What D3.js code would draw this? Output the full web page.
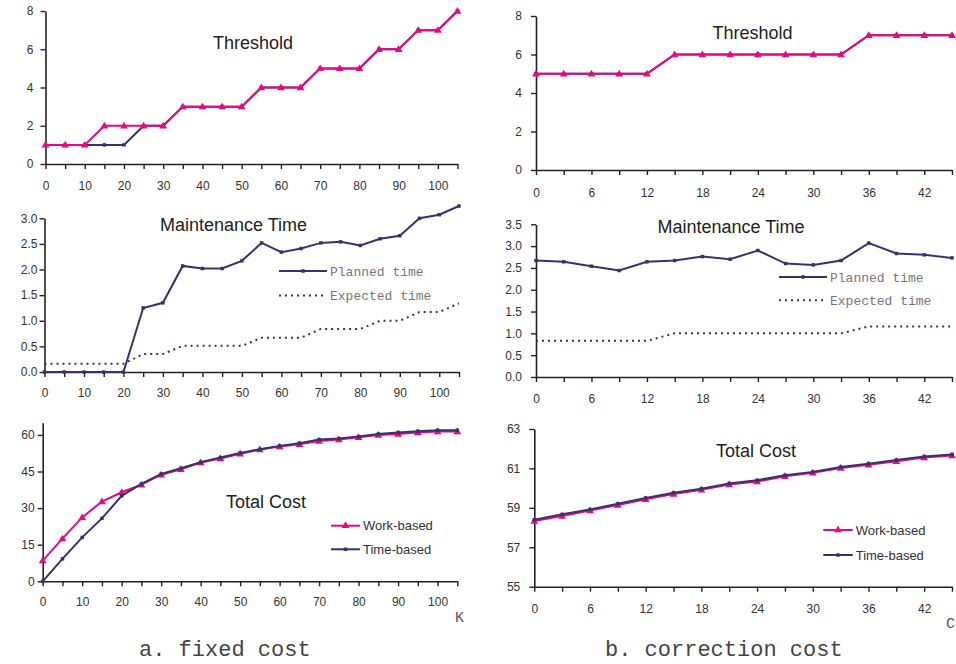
<!DOCTYPE html>
<html><head><meta charset="utf-8">
<script src="https://cdn.jsdelivr.net/npm/d3@7"></script>
<style>body{margin:0;background:#fff;overflow:hidden}</style>
</head><body>
<svg id="c" width="956" height="664"></svg>
<script>
// ---------- data ----------
const kValues = [0,5,10,15,20,25,30,35,40,45,50,55,60,65,70,75,80,85,90,95,100,105];
const kLabels = [0,10,20,30,40,50,60,70,80,90,100];
const thrWorkA = [1,1,1,2,2,2,2,3,3,3,3,4,4,4,5,5,5,6,6,7,7,8];
const thrTimeA = [1,1,1,1,1,2,2,3,3,3,3,4,4,4,5,5,5,6,6,7,7,8];
const plannedA = [0,0,0,0,0,1.25,1.35,2.07,2.02,2.02,2.17,2.52,2.34,2.41,2.52,2.54,2.47,2.60,2.66,3.0,3.07,3.24];
const expectedA = [0.16,0.16,0.16,0.16,0.16,0.35,0.35,0.51,0.51,0.51,0.51,0.67,0.67,0.67,0.84,0.84,0.84,1.0,1.0,1.17,1.17,1.34];
const costWorkA = [8.5,17.5,26.2,32.7,36.5,39.6,43.7,45.9,48.7,50.3,52.3,54.0,55.2,56.2,57.5,58.1,59.0,60.0,60.4,61.0,61.4,61.4];
const costTimeA = [0,9.2,18.0,25.8,35.0,39.9,44.0,46.3,48.8,50.7,52.6,54.1,55.5,56.6,58.1,58.5,59.3,60.4,61.0,61.5,61.9,61.9];

const cValues = [0,3,6,9,12,15,18,21,24,27,30,33,36,39,42,45];
const cLabels = [0,6,12,18,24,30,36,42];
const thrWorkB = [5,5,5,5,5,6,6,6,6,6,6,6,7,7,7,7];
const thrTimeB = [5,5,5,5,5,6,6,6,6,6,6,6,7,7,7,7];
const plannedB = [2.67,2.64,2.54,2.44,2.64,2.67,2.76,2.70,2.90,2.60,2.57,2.67,3.07,2.83,2.80,2.73];
const expectedB = [0.83,0.83,0.83,0.83,0.83,1.0,1.0,1.0,1.0,1.0,1.0,1.0,1.16,1.16,1.16,1.16];
const costWorkB = [58.33,58.59,58.87,59.14,59.43,59.70,59.92,60.18,60.33,60.60,60.78,61.02,61.19,61.36,61.55,61.66];
const costTimeB = [58.40,58.67,58.92,59.21,59.50,59.77,59.97,60.24,60.40,60.65,60.82,61.07,61.24,61.43,61.60,61.71];

const thrTicks = [0,2,4,6,8];
const mtTicksA = [0,0.5,1.0,1.5,2.0,2.5,3.0];
const mtTicksB = [0,0.5,1.0,1.5,2.0,2.5,3.0,3.5];
const costTicksA = [0,15,30,45,60];
const costTicksB = [55,57,59,61,63];

// ---------- style ----------
const PINK = "#e8087f", NAVY = "#34346c", AX = "#222", TXT = "#333";
const SANS = "'Liberation Sans', Arial, sans-serif";
const MONO = "'Liberation Mono', 'Courier New', monospace";

const svg = d3.select("#c");

function panel(o) {
  const x = d3.scaleLinear().domain(o.xDomain).range([o.x0, o.x1]);
  const y = d3.scaleLinear().domain(o.yDomain).range([o.yB, o.yT]);
  const g = svg.append("g");
  const xa = d3.axisBottom(x).tickValues(o.xValues).tickSize(5).tickSizeOuter(0)
    .tickPadding(o.xPad).tickFormat(d => o.xLabels.includes(d) ? d : "");
  const ya = d3.axisLeft(y).tickValues(o.yTicks).tickSize(5).tickSizeOuter(0)
    .tickPadding(o.yPad).tickFormat(o.yFmt);
  const gx = g.append("g").attr("transform", `translate(0,${o.yB})`).call(xa);
  const gy = g.append("g").attr("transform", `translate(${o.x0},0)`).call(ya);
  [gx, gy].forEach(a => {
    a.select(".domain").attr("stroke", AX).attr("stroke-width", 1.6);
    a.selectAll(".tick line").attr("stroke", AX).attr("stroke-width", 1.4);
    a.selectAll("text").attr("fill", TXT).style("font-family", SANS).style("font-size", "12px");
  });
  const line = d3.line().x(d => x(d[0])).y(d => y(d[1]));
  o.series.forEach(s => {
    const pts = o.xValues.map((v, i) => [v, s.values[i]]);
    g.append("path").attr("d", line(pts)).attr("fill", "none")
      .attr("stroke", s.color).attr("stroke-width", s.width || 2)
      .attr("stroke-dasharray", s.dash || null);
    if (s.marker) {
      const sym = d3.symbol().type(s.marker === "tri" ? d3.symbolTriangle : d3.symbolSquare)
        .size(s.marker === "tri" ? 26 : 12);
      g.selectAll(null).data(pts).enter().append("path")
        .attr("d", sym).attr("fill", s.color)
        .attr("transform", d => `translate(${x(d[0])},${y(d[1]) + (s.marker === "tri" ? 0.5 : 0)})`);
    }
  });
  if (o.title) {
    g.append("text").attr("x", o.title.x).attr("y", o.title.y).text(o.title.text)
      .attr("fill", "#222").style("font-family", SANS).style("font-size", "18px");
  }
  if (o.legend) {
    o.legend.items.forEach(it => {
      g.append("line").attr("x1", it.x1).attr("x2", it.x2).attr("y1", it.y).attr("y2", it.y)
        .attr("stroke", it.color).attr("stroke-width", 2).attr("stroke-dasharray", it.dash || null);
      if (it.marker) {
        const sym = d3.symbol().type(it.marker === "tri" ? d3.symbolTriangle : d3.symbolSquare)
          .size(it.marker === "tri" ? 26 : 12);
        g.append("path").attr("d", sym).attr("fill", it.color)
          .attr("transform", `translate(${(it.x1 + it.x2) / 2},${it.y})`);
      }
      g.append("text").attr("x", it.x2 + 3).attr("y", it.y).attr("dy", "0.35em").text(it.text)
        .attr("fill", o.legend.color).style("font-family", o.legend.font).style("font-size", "13px");
    });
  }
  return g;
}

// ---- left column (a. fixed cost) ----
panel({
  x0: 45.5, x1: 457.5, xDomain: [0, 105], xValues: kValues, xLabels: kLabels, xPad: 12,
  yB: 164, yT: 11, yDomain: [0, 8], yTicks: thrTicks, yFmt: d3.format("d"), yPad: 7,
  series: [
    { values: thrTimeA, color: NAVY, marker: "sq" },
    { values: thrWorkA, color: PINK, marker: "tri" }
  ],
  title: { text: "Threshold", x: 213, y: 49 }
});
panel({
  x0: 44.5, x1: 459, xDomain: [0, 105], xValues: kValues, xLabels: kLabels, xPad: 11,
  yB: 372, yT: 218.3, yDomain: [0, 3], yTicks: mtTicksA, yFmt: d3.format(".1f"), yPad: 2,
  series: [
    { values: expectedA, color: NAVY, dash: "2,4", width: 2 },
    { values: plannedA, color: NAVY, marker: "sq" }
  ],
  title: { text: "Maintenance Time", x: 160, y: 231 },
  legend: { color: "#777", font: MONO, items: [
    { x1: 279, x2: 327, y: 271, color: NAVY, marker: "sq", text: "Planned time" },
    { x1: 279, x2: 327, y: 295.5, color: NAVY, dash: "2,4", text: "Expected time" }
  ]}
});
panel({
  x0: 42.7, x1: 457.3, xDomain: [0, 105], xValues: kValues, xLabels: kLabels, xPad: 11,
  yB: 581.3, yT: 422.7, yDomain: [0, 65], yTicks: costTicksA, yFmt: d3.format("d"), yPad: 3,
  series: [
    { values: costWorkA, color: PINK, marker: "tri" },
    { values: costTimeA, color: NAVY, marker: "sq" }
  ],
  title: { text: "Total Cost", x: 226, y: 508 },
  legend: { color: "#333", font: SANS, items: [
    { x1: 331, x2: 360, y: 525.7, color: PINK, marker: "tri", text: "Work-based" },
    { x1: 331, x2: 360, y: 549.3, color: NAVY, marker: "sq", text: "Time-based" }
  ]}
});

// ---- right column (b. correction cost) ----
panel({
  x0: 536, x1: 952, xDomain: [0, 45], xValues: cValues, xLabels: cLabels, xPad: 13,
  yB: 170, yT: 16, yDomain: [0, 8], yTicks: thrTicks, yFmt: d3.format("d"), yPad: 9,
  series: [
    { values: thrTimeB, color: NAVY, marker: "sq" },
    { values: thrWorkB, color: PINK, marker: "tri" }
  ],
  title: { text: "Threshold", x: 712.5, y: 38.5 }
});
panel({
  x0: 536, x1: 952, xDomain: [0, 45], xValues: cValues, xLabels: cLabels, xPad: 12,
  yB: 377, yT: 224.3, yDomain: [0, 3.5], yTicks: mtTicksB, yFmt: d3.format(".1f"), yPad: 9,
  series: [
    { values: expectedB, color: NAVY, dash: "2,4", width: 2 },
    { values: plannedB, color: NAVY, marker: "sq" }
  ],
  title: { text: "Maintenance Time", x: 657.5, y: 233 },
  legend: { color: "#777", font: MONO, items: [
    { x1: 779, x2: 827, y: 277, color: NAVY, marker: "sq", text: "Planned time" },
    { x1: 779, x2: 827, y: 300.3, color: NAVY, dash: "2,4", text: "Expected time" }
  ]}
});
panel({
  x0: 534.3, x1: 952, xDomain: [0, 45], xValues: cValues, xLabels: cLabels, xPad: 13,
  yB: 586.7, yT: 429, yDomain: [55, 63], yTicks: costTicksB, yFmt: d3.format("d"), yPad: 9,
  series: [
    { values: costWorkB, color: PINK, marker: "tri" },
    { values: costTimeB, color: NAVY, marker: "sq" }
  ],
  title: { text: "Total Cost", x: 716, y: 456.5 },
  legend: { color: "#333", font: SANS, items: [
    { x1: 823.3, x2: 852.7, y: 530, color: PINK, marker: "tri", text: "Work-based" },
    { x1: 823.3, x2: 852.7, y: 555, color: NAVY, marker: "sq", text: "Time-based" }
  ]}
});

// axis name letters and captions
svg.append("text").attr("x", 455).attr("y", 622).text("K")
  .attr("fill", "#555").style("font-family", MONO).style("font-size", "15px");
svg.append("text").attr("x", 946).attr("y", 628).text("C")
  .attr("fill", "#555").style("font-family", MONO).style("font-size", "15px");
svg.append("text").attr("x", 139).attr("y", 656).text("a. fixed cost")
  .attr("fill", "#444").style("font-family", MONO).style("font-size", "22px");
svg.append("text").attr("x", 605).attr("y", 656).text("b. correction cost")
  .attr("fill", "#444").style("font-family", MONO).style("font-size", "22px");
</script>
</body></html>
